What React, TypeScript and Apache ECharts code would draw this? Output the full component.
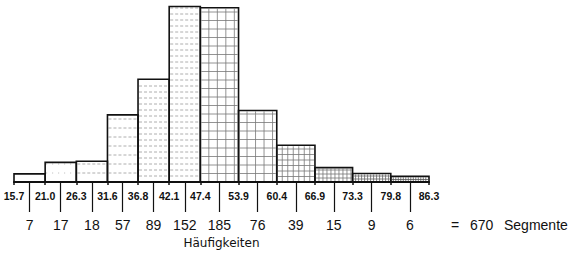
import React, { useEffect, useRef } from "react";
import * as echarts from "echarts";

// Bin edges (class limits) and frequencies per bin
const binEdges = [15.7, 21.0, 26.3, 31.6, 36.8, 42.1, 47.4, 53.9, 60.4, 66.9, 73.3, 79.8, 86.3];
const binCounts = [7, 17, 18, 57, 89, 152, 185, 76, 39, 15, 9, 6];
const axisTitle = "Häufigkeiten";
const totalUnit = "Segmente";

// fill styles for each bar (styling only)
const fillStyles = [
  { type: "none", step: 0, color: "#999", dash: [2, 2] },
  { type: "dash", step: 9, color: "#aaa", dash: [1, 5] },
  { type: "dash", step: 9, color: "#999", dash: [3, 2] },
  { type: "dash", step: 9, color: "#999", dash: [3, 2] },
  { type: "dash", step: 6, color: "#999", dash: [3, 2] },
  { type: "dash", step: 6, color: "#999", dash: [3, 2] },
  { type: "grid", step: 8.5, color: "#777", dash: [] },
  { type: "grid", step: 8.5, color: "#777", dash: [] },
  { type: "grid", step: 5.5, color: "#777", dash: [] },
  { type: "grid", step: 4, color: "#777", dash: [] },
  { type: "grid", step: 3, color: "#666", dash: [] },
  { type: "grid", step: 2.5, color: "#555", dash: [] },
];

const FONT = "'Liberation Sans', Arial, sans-serif";

export default function App() {
  const ref = useRef<HTMLDivElement>(null);
  useEffect(() => {
    if (!ref.current) return;
    const chart = echarts.init(ref.current, undefined, { renderer: "svg" });
    const centers = binCounts.map((_, i) => (binEdges[i] + binEdges[i + 1]) / 2);
    const data = binCounts.map((c, i) => {
      const w = binEdges[i + 1] - binEdges[i];
      return [binEdges[i], binEdges[i + 1], c / w, c];
    });
    const total = binCounts.reduce((a, b) => a + b, 0);
    const countFor = (v: number) => {
      let best = 0;
      let bd = Infinity;
      centers.forEach((c, i) => {
        const d = Math.abs(c - v);
        if (d < bd) {
          bd = d;
          best = i;
        }
      });
      return String(binCounts[best]);
    };
    const minX = binEdges[0];
    const maxX = binEdges[binEdges.length - 1];

    chart.setOption({
      animation: false,
      backgroundColor: "#fff",
      grid: { left: 14, right: 143, top: 4.5, bottom: 76, outerBoundsMode: "none", containLabel: false },
      xAxis: [
        {
          type: "value",
          min: minX,
          max: maxX,
          position: "bottom",
          offset: 0,
          splitLine: { show: false },
          axisLine: { show: true, lineStyle: { color: "#111", width: 2 } },
          axisTick: { show: true, customValues: binEdges, length: 3, lineStyle: { color: "#111", width: 1.5 } },
          axisLabel: {
            show: true,
            customValues: binEdges,
            formatter: (v: number) => v.toFixed(1),
            margin: 8,
            fontSize: 10.5,
            fontWeight: "bold",
            fontFamily: FONT,
            color: "#111",
          },
        },
        {
          type: "value",
          min: minX,
          max: maxX,
          position: "bottom",
          offset: 0,
          splitLine: { show: false },
          axisLine: { show: false },
          axisTick: { show: true, customValues: centers, length: 30, lineStyle: { color: "#111", width: 1.2 } },
          axisLabel: {
            show: true,
            customValues: centers,
            formatter: (v: number) => countFor(v),
            margin: 36,
            fontSize: 14,
            fontFamily: FONT,
            color: "#111",
          },
          name: axisTitle,
          nameLocation: "middle",
          nameGap: 53,
          nameTextStyle: { fontSize: 12, fontFamily: "'DejaVu Sans', sans-serif", color: "#111" },
        },
      ],
      yAxis: { type: "value", min: 0, max: 29, show: false, splitLine: { show: false } },
      series: [
        {
          type: "custom",
          xAxisIndex: 0,
          encode: { x: [0, 1], y: 2 },
          data,
          clip: false,
          renderItem: (params: any, api: any) => {
            const p0 = api.coord([api.value(0), api.value(2)]);
            const p1 = api.coord([api.value(1), 0]);
            const left = p0[0];
            const top = p0[1];
            const right = p1[0];
            const bottom = p1[1];
            const st = fillStyles[params.dataIndex];
            const children: any[] = [];
            if (st.type === "dash" || st.type === "grid") {
              for (let y = bottom - st.step; y > top + 1; y -= st.step) {
                children.push({
                  type: "line",
                  silent: true,
                  shape: { x1: left + 1, y1: y, x2: right - 1, y2: y },
                  style: { stroke: st.color, lineWidth: 0.8, lineDash: st.dash.length ? st.dash : null },
                });
              }
            }
            if (st.type === "grid") {
              for (let x = left + st.step; x < right - 1; x += st.step) {
                children.push({
                  type: "line",
                  silent: true,
                  shape: { x1: x, y1: top + 1, x2: x, y2: bottom - 1 },
                  style: { stroke: st.color, lineWidth: 0.8 },
                });
              }
            }
            children.push({
              type: "rect",
              shape: { x: left, y: top, width: right - left, height: bottom - top },
              style: { fill: "none", stroke: "#111", lineWidth: 1.6 },
            });
            return { type: "group", children };
          },
        },
      ],
      graphic: [
        { type: "text", left: 451, top: 218, style: { text: "=", fontSize: 14, fontFamily: FONT, fill: "#111" } },
        { type: "text", left: 470, top: 218, style: { text: String(total), fontSize: 14, fontFamily: FONT, fill: "#111" } },
        { type: "text", left: 504, top: 218, style: { text: totalUnit, fontSize: 14, fontFamily: FONT, fill: "#111" } },
      ],
    });
    return () => chart.dispose();
  }, []);
  return <div ref={ref} style={{ position: "fixed", left: 0, top: 0, width: 572, height: 258 }} />;
}
